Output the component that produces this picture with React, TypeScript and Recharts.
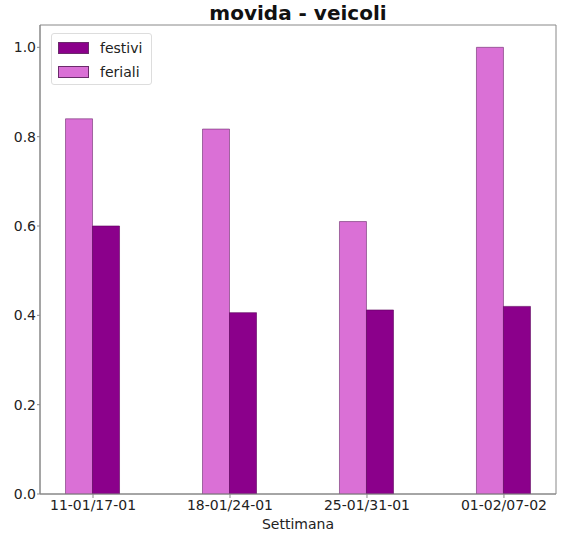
import { BarChart, Bar, XAxis, YAxis, ReferenceArea } from 'recharts'

const weeks = ['11-01/17-01', '18-01/24-01', '25-01/31-01', '01-02/07-02']
const feriali = [0.84, 0.817, 0.61, 1.0]
const festivi = [0.6, 0.406, 0.412, 0.42]
const yTicks = [0, 0.2, 0.4, 0.6, 0.8, 1.0]

const legendItems = [
  { name: 'festivi', color: '#8B008B' },
  { name: 'feriali', color: '#DA70D6' },
]

const data = weeks.map((w, i) => ({ idx: i, week: w, feriali: feriali[i], festivi: festivi[i] }))

const font = 'DejaVu Sans, sans-serif'
const tickStyle = { fontSize: 14, fill: '#222', fontFamily: font }

export default function App() {
  return (
    <div style={{ position: 'fixed', left: 0, top: 0, width: 563, height: 536, background: '#fff' }}>
      <div style={{ position: 'absolute', left: 40, width: 516, top: 1, textAlign: 'center', fontFamily: font, fontWeight: 'bold', fontSize: 20, color: '#111' }}>
        movida - veicoli
      </div>
      <BarChart width={563} height={536} data={data} margin={{ top: 25, right: 7, bottom: 0, left: 0 }} barGap={0} barSize={27}>
        <XAxis
          dataKey="idx"
          type="number"
          domain={[-0.387, 3.38]}
          ticks={[0, 1, 2, 3]}
          tickFormatter={(i: number) => weeks[i]}
          allowDataOverflow
          height={42}
          tick={tickStyle}
          stroke="#888"
          tickSize={4}
          label={{ value: 'Settimana', position: 'insideBottom', offset: 7, style: { fontSize: 14, fill: '#222', fontFamily: font } }}
        />
        <YAxis
          type="number"
          domain={[0, 1.05]}
          ticks={yTicks}
          tickFormatter={(v: number) => v.toFixed(1)}
          allowDataOverflow
          width={40}
          tick={tickStyle}
          stroke="#888"
          tickSize={3}
          tickMargin={1}
        />
        <ReferenceArea x1={-0.387} x2={3.38} y1={0} y2={1.05} fill="none" stroke="#888" strokeWidth={1} ifOverflow="visible" />
        <Bar dataKey="feriali" fill="#DA70D6" stroke="#6b2b6b" strokeWidth={0.6} isAnimationActive={false} />
        <Bar dataKey="festivi" fill="#8B008B" stroke="#5a005a" strokeWidth={0.6} isAnimationActive={false} />
      </BarChart>
      <div style={{ position: 'absolute', left: 51, top: 33, width: 99, height: 50, border: '1px solid #ddd', borderRadius: 3, background: 'rgba(255,255,255,0.8)', fontFamily: font, fontSize: 14, color: '#222' }}>
        {legendItems.map((it, k) => (
          <div key={it.name} style={{ position: 'absolute', left: 6, top: 8 + k * 24, display: 'flex', alignItems: 'center' }}>
            <span style={{ display: 'inline-block', width: 29, height: 10, background: it.color, border: '0.6px solid #6b2b6b' }} />
            <span style={{ marginLeft: 11, lineHeight: '12px' }}>{it.name}</span>
          </div>
        ))}
      </div>
    </div>
  )
}
